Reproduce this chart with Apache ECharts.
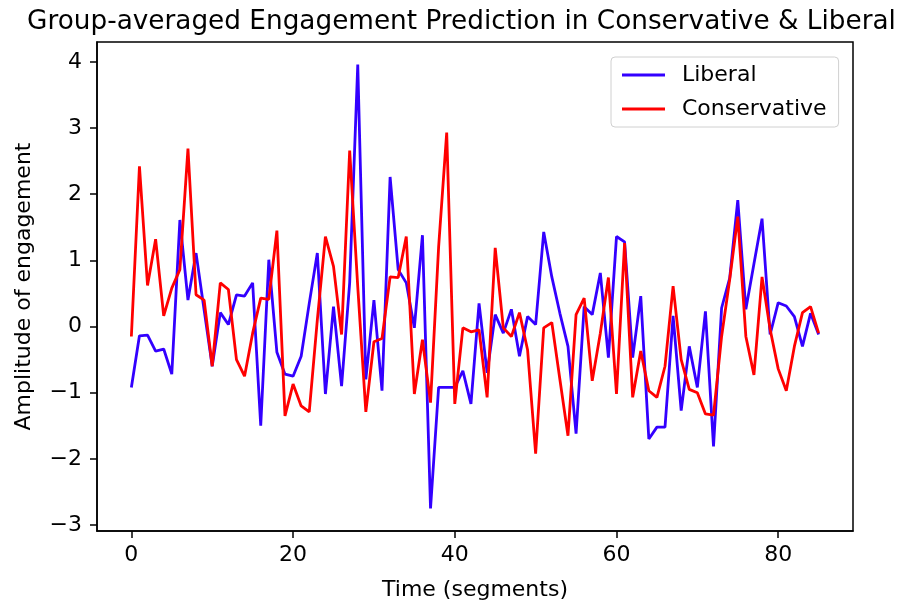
<!DOCTYPE html>
<html>
<head>
<meta charset="utf-8">
<script src="https://cdn.jsdelivr.net/npm/echarts@6/dist/echarts.min.js"></script>
<style>
html,body{margin:0;padding:0;background:#fff;}
#chart{width:923px;height:606px;}
</style>
</head>
<body>
<div id="chart"></div>
<script>
const timeSegments = Array.from({length: 86}, (_, i) => i);
const liberal = [
  -0.92, -0.14, -0.13, -0.37, -0.34, -0.72, 1.61, 0.40, 1.11, 0.25,
  -0.60, 0.21, 0.03, 0.48, 0.46, 0.66, -1.50, 1.01, -0.39, -0.72,
  -0.75, -0.45, 0.35, 1.11, -1.02, 0.30, -0.90, 0.66, 3.96, -0.80,
  0.40, -0.97, 2.26, 0.86, 0.66, -0.02, 1.38, -2.75, -0.92, -0.92,
  -0.92, -0.67, -1.17, 0.35, -0.70, 0.18, -0.10, 0.26, -0.45, 0.15,
  0.03, 1.43, 0.75, 0.20, -0.30, -1.62, 0.30, 0.18, 0.81, -0.47,
  1.36, 1.28, -0.47, 0.46, -1.70, -1.52, -1.52, 0.16, -1.27, -0.30,
  -0.92, 0.23, -1.81, 0.28, 0.73, 1.91, 0.26, 0.95, 1.63, -0.12,
  0.36, 0.31, 0.15, -0.30, 0.20, -0.12
];
const conservative = [
  -0.15, 2.42, 0.62, 1.32, 0.16, 0.58, 0.86, 2.69, 0.48, 0.40,
  -0.60, 0.66, 0.56, -0.50, -0.75, -0.10, 0.43, 0.41, 1.45, -1.35,
  -0.87, -1.20, -1.29, 0.10, 1.36, 0.91, -0.12, 2.66, 0.60, -1.29,
  -0.23, -0.18, 0.75, 0.74, 1.36, -1.02, -0.20, -1.15, 1.20, 2.93,
  -1.17, -0.02, -0.08, -0.05, -1.07, 1.19, -0.02, -0.15, 0.21, -0.35,
  -1.92, -0.02, 0.06, -0.80, -1.65, 0.18, 0.43, -0.82, -0.10, 0.74,
  -1.02, 1.26, -1.07, -0.37, -0.97, -1.07, -0.60, 0.61, -0.50, -0.95,
  -1.00, -1.32, -1.34, -0.15, 0.71, 1.66, -0.15, -0.73, 0.75, -0.04,
  -0.64, -0.97, -0.30, 0.21, 0.30, -0.10
];
const xTicks = [0, 20, 40, 60, 80];
const yTicks = [-3, -2, -1, 0, 1, 2, 3, 4];

const FONT = 'DejaVu Sans';
const chart = echarts.init(document.getElementById('chart'), null, {renderer: 'canvas'});
const pair = (arr) => timeSegments.map((t, i) => [t, arr[i]]);
const minusFmt = (v) => String(v).replace('-', '\u2212');

chart.setOption({
  animation: false,
  backgroundColor: '#ffffff',
  title: {
    text: 'Group-averaged Engagement Prediction in Conservative & Liberal',
    left: 'center',
    top: 4,
    textStyle: {fontFamily: FONT, fontSize: 26.3, fontWeight: 'normal', color: '#000'}
  },
  legend: {
    orient: 'vertical',
    left: 611,
    top: 57,
    icon: 'rect',
    itemWidth: 43,
    itemHeight: 3,
    itemGap: 12,
    padding: [7, 12, 7, 11],
    backgroundColor: '#fff',
    borderColor: '#d0d0d0',
    borderWidth: 1,
    borderRadius: 4,
    textStyle: {fontFamily: FONT, fontSize: 22, color: '#000', padding: [0, 0, 0, 12]},
    data: ['Liberal', 'Conservative']
  },
  grid: {
    left: 97, right: 70, top: 42, bottom: 73,
    show: true, borderColor: '#000', borderWidth: 1.5, backgroundColor: '#fff'
  },
  xAxis: {
    type: 'value',
    min: -4.25, max: 89.25,
    name: 'Time (segments)',
    nameLocation: 'middle',
    nameGap: 48,
    nameTextStyle: {fontFamily: FONT, fontSize: 22, color: '#000'},
    axisLine: {show: true, onZero: false, lineStyle: {color: '#000', width: 1.5}},
    axisTick: {show: true, length: 7, customValues: xTicks, lineStyle: {color: '#000', width: 1.5}},
    axisLabel: {show: true, margin: 13, customValues: xTicks, formatter: minusFmt, fontFamily: FONT, fontSize: 22, color: '#000'},
    splitLine: {show: false}
  },
  yAxis: {
    type: 'value',
    min: -3.09, max: 4.30,
    name: 'Amplitude of engagement',
    nameLocation: 'middle',
    nameGap: 62,
    nameTextStyle: {fontFamily: FONT, fontSize: 22, color: '#000'},
    axisLine: {show: true, onZero: false, lineStyle: {color: '#000', width: 1.5}},
    axisTick: {show: true, length: 7, customValues: yTicks, lineStyle: {color: '#000', width: 1.5}},
    axisLabel: {show: true, margin: 15, customValues: yTicks, formatter: minusFmt, fontFamily: FONT, fontSize: 22, color: '#000'},
    splitLine: {show: false}
  },
  series: [
    {
      name: 'Liberal', type: 'line', data: pair(liberal),
      showSymbol: false, symbol: 'none',
      color: '#3300ff',
      lineStyle: {color: '#3300ff', width: 2.8},
      z: 2
    },
    {
      name: 'Conservative', type: 'line', data: pair(conservative),
      showSymbol: false, symbol: 'none',
      color: '#ff0000',
      lineStyle: {color: '#ff0000', width: 2.8},
      z: 3
    }
  ]
});
</script>
</body>
</html>
